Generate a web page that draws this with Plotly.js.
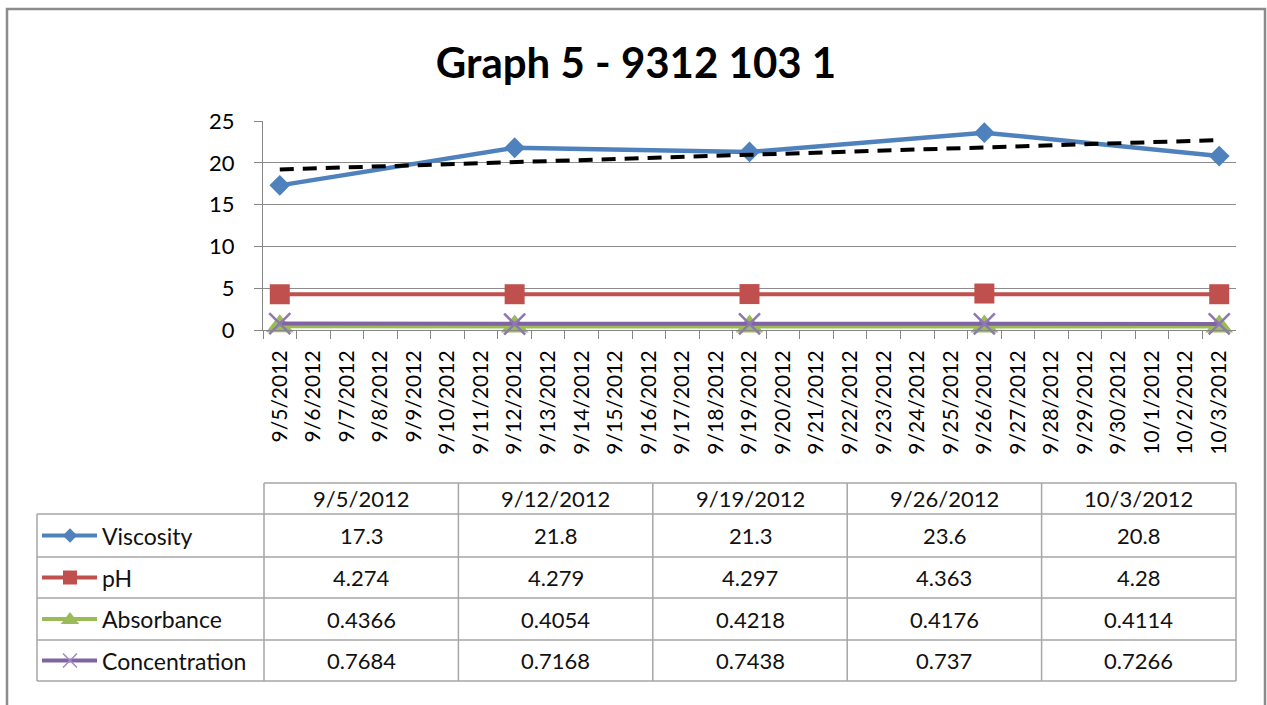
<!DOCTYPE html>
<html><head><meta charset="utf-8">
<script src="https://cdn.plot.ly/plotly-3.0.1.min.js"></script>
<style>html,body{margin:0;padding:0;background:#fff;} #chart{width:1267px;height:705px;}</style>
</head><body><div id="chart"></div>
<script>
// ---- data ----
const dayLabels = ['9/5/2012','9/6/2012','9/7/2012','9/8/2012','9/9/2012','9/10/2012','9/11/2012',
  '9/12/2012','9/13/2012','9/14/2012','9/15/2012','9/16/2012','9/17/2012','9/18/2012',
  '9/19/2012','9/20/2012','9/21/2012','9/22/2012','9/23/2012','9/24/2012','9/25/2012',
  '9/26/2012','9/27/2012','9/28/2012','9/29/2012','9/30/2012','10/1/2012','10/2/2012','10/3/2012'];
const sampleDates = ['9/5/2012','9/12/2012','9/19/2012','9/26/2012','10/3/2012'];
const viscosity = [17.3, 21.8, 21.3, 23.6, 20.8];
const pH = [4.274, 4.279, 4.297, 4.363, 4.28];
const absorbance = [0.4366, 0.4054, 0.4218, 0.4176, 0.4114];
const concentration = [0.7684, 0.7168, 0.7438, 0.737, 0.7266];
const seriesNames = ['Viscosity', 'pH', 'Absorbance', 'Concentration'];
const seriesValues = [viscosity, pH, absorbance, concentration];
const chartTitle = 'Graph 5 - 9312 103 1';

// ---- styles ----
const colors = ['#4F81BD', '#C0504D', '#9BBB59', '#8064A2'];
const symbols = ['diamond', 'square', 'triangle-up', 'x-thin'];
const sizes = [16, 20, 24, 21];
const keySizes = [11, 14, 16, 14];
const FONT = 'Lato, "Open Sans", sans-serif';
const W = 1267, H = 705;
const px = v => v / W, py = v => 1 - v / H;

// ---- linear trendline of viscosity (least squares over day index) ----
const xi = sampleDates.map(d => dayLabels.indexOf(d));
const n = xi.length;
const mx = xi.reduce((a, b) => a + b, 0) / n;
const my = viscosity.reduce((a, b) => a + b, 0) / n;
let sxy = 0, sxx = 0;
for (let i = 0; i < n; i++) { sxy += (xi[i] - mx) * (viscosity[i] - my); sxx += (xi[i] - mx) ** 2; }
const slope = sxy / sxx, icpt = my - slope * mx;
const tX = [xi[0], xi[n - 1]];

const traces = [];
seriesNames.forEach((name, i) => {
  const m = {symbol: symbols[i], size: sizes[i], color: colors[i]};
  if (symbols[i] === 'x-thin') m.line = {color: '#8E76B4', width: 2.5};
  traces.push({
    type: 'scatter', mode: 'lines+markers', name: name,
    x: sampleDates, y: seriesValues[i],
    line: {color: colors[i], width: i === 0 ? 4.5 : 4},
    marker: m, cliponaxis: false, showlegend: false, xaxis: 'x', yaxis: 'y'
  });
});
traces.push({
  type: 'scatter', mode: 'lines', name: 'Linear (Viscosity)',
  x: tX.map(k => dayLabels[k]), y: tX.map(k => icpt + slope * k),
  line: {color: '#000', width: 4, dash: '14px,9px'}, showlegend: false, xaxis: 'x', yaxis: 'y'
});

// ---- data table geometry (pixels) ----
const tLeft = 37, tCol0 = 264, tRight = 1236;
const rowEdges = [483, 514, 557, 598, 640, 681];
const colW = (tRight - tCol0) / sampleDates.length;
const lineStyle = {color: '#A6A6A6', width: 1.5};
const shapes = [];
shapes.push({type: 'rect', xref: 'x2', yref: 'y2', x0: 7, x1: 1265, y0: 9, y1: 740,
  line: {color: '#8C8C8C', width: 2.5}, fillcolor: 'rgba(0,0,0,0)'});
rowEdges.forEach((y, k) => {
  shapes.push({type: 'line', xref: 'x2', yref: 'y2', x0: k === 0 ? tCol0 : tLeft, x1: tRight, y0: y, y1: y, line: lineStyle});
});
shapes.push({type: 'line', xref: 'x2', yref: 'y2', x0: tLeft, x1: tLeft, y0: rowEdges[1], y1: rowEdges[5], line: lineStyle});
for (let c = 0; c <= sampleDates.length; c++) {
  const x = tCol0 + c * colW;
  shapes.push({type: 'line', xref: 'x2', yref: 'y2', x0: x, x1: x, y0: rowEdges[0], y1: rowEdges[5], line: lineStyle});
}
const annotations = [];
const tf = {family: FONT, size: 22, color: '#111'};
const lf = {family: FONT, size: 23, color: '#111'};
const rowMid = k => (rowEdges[k] + rowEdges[k + 1]) / 2;
sampleDates.forEach((d, c) => {
  annotations.push({xref: 'x2', yref: 'y2', x: tCol0 + (c + 0.5) * colW, y: rowMid(0), text: d,
    showarrow: false, font: tf, xanchor: 'center', yanchor: 'middle'});
});
seriesNames.forEach((name, i) => {
  annotations.push({xref: 'x2', yref: 'y2', x: 100, y: rowMid(i + 1), text: name,
    showarrow: false, font: lf, xanchor: 'left', yanchor: 'middle'});
  seriesValues[i].forEach((v, c) => {
    annotations.push({xref: 'x2', yref: 'y2', x: tCol0 + (c + 0.5) * colW, y: rowMid(i + 1), text: String(v),
      showarrow: false, font: tf, xanchor: 'center', yanchor: 'middle'});
  });
  // legend key
  const yk = rowMid(i + 1);
  const isTri = symbols[i] === 'triangle-up';
  traces.push({type: 'scatter', mode: 'lines', x: [42, 97], y: [yk, yk],
    line: {color: colors[i], width: 4}, showlegend: false, hoverinfo: 'skip', xaxis: 'x2', yaxis: 'y2'});
  const m = {symbol: symbols[i], size: keySizes[i], color: colors[i]};
  if (symbols[i] === 'x-thin') m.line = {color: '#A08BC0', width: 1.5};
  traces.push({type: 'scatter', mode: 'markers', x: [70], y: [isTri ? yk + 1 : yk],
    marker: m, showlegend: false, hoverinfo: 'skip', xaxis: 'x2', yaxis: 'y2', cliponaxis: false});
});

const layout = {
  width: W, height: H, margin: {l: 0, r: 0, t: 0, b: 0},
  paper_bgcolor: '#fff', plot_bgcolor: 'rgba(0,0,0,0)', showlegend: false,
  title: {text: '<b>' + chartTitle + '</b>', font: {family: FONT, size: 42, color: '#000'},
    x: px(636), xanchor: 'center', xref: 'paper', y: py(63), yanchor: 'middle', yref: 'paper'},
  xaxis: {type: 'category', categoryorder: 'array', categoryarray: dayLabels,
    range: [-0.5, dayLabels.length - 0.5], domain: [px(263), px(1236)], anchor: 'y',
    tickmode: 'linear', tick0: 0, dtick: 1, tickson: 'boundaries',
    ticks: 'outside', ticklen: 8, tickcolor: '#868686', tickwidth: 1,
    showline: true, linecolor: '#868686', linewidth: 1, showgrid: false, zeroline: false,
    tickangle: -90, ticklabelstandoff: 11, tickfont: {family: FONT, size: 21, color: '#000'}, fixedrange: true},
  yaxis: {range: [0, 25], dtick: 5, tick0: 0, domain: [py(330), py(121)], anchor: 'x',
    ticks: 'outside', ticklen: 8, tickcolor: '#868686', tickwidth: 1,
    showline: true, linecolor: '#868686', linewidth: 1, showgrid: true, gridcolor: '#8C8C8C', gridwidth: 1,
    zeroline: false, ticklabelstandoff: 15, tickfont: {family: FONT, size: 22, color: '#000'}, fixedrange: true},
  xaxis2: {domain: [0, 1], range: [0, W], visible: false, anchor: 'y2', fixedrange: true},
  yaxis2: {domain: [0, 1], range: [H, 0], visible: false, anchor: 'x2', fixedrange: true},
  shapes: shapes, annotations: annotations
};
Plotly.newPlot('chart', traces, layout, {displayModeBar: false, staticPlot: true});
</script></body></html>
